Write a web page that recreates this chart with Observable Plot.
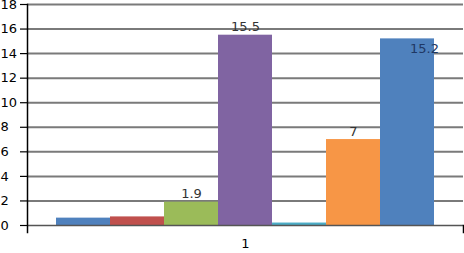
<!DOCTYPE html>
<html>
<head>
<meta charset="utf-8">
<script src="https://cdn.jsdelivr.net/npm/d3@7"></script>
<script src="https://cdn.jsdelivr.net/npm/@observablehq/plot@0.6"></script>
<style>
  html, body { margin: 0; padding: 0; background: #fff; }
  #chart svg { display: block; }
</style>
</head>
<body>
<div id="chart"></div>
<script>
const categories = ["1"];
const series = ["S1", "S2", "S3", "S4", "S5", "S6", "S7"];
const values = [0.6, 0.7, 1.9, 15.5, 0.2, 7, 15.2];
const labels = [null, null, "1.9", "15.5", null, "7", "15.2"];
const colors = ["#4F81BD", "#C0504D", "#9BBB59", "#8064A2", "#4BACC6", "#F79646", "#4F81BD"];
const yTicks = [0, 2, 4, 6, 8, 10, 12, 14, 16, 18];

const data = series.map((s, i) => ({cat: categories[0], series: s, value: values[i], label: labels[i], idx: i}));
const aboveLabels = data.filter(d => d.label && d.idx !== 6);
const insideLabels = data.filter(d => d.label && d.idx === 6);

const W = 464, ML = 27, MR = 1;
const frameW = W - ML - MR;

const chart = Plot.plot({
  width: W,
  height: 253,
  marginLeft: ML,
  marginRight: MR,
  marginTop: 4,
  marginBottom: 28,
  style: {fontFamily: "DejaVu Sans", fontSize: "13px", color: "#000", background: "#fff"},
  fx: {domain: categories, padding: 0, label: null, axis: null},
  x: {domain: series, paddingInner: 0, paddingOuter: 0.5, axis: null},
  y: {domain: [0, 18], axis: null},
  color: {domain: series, range: colors},
  marks: [
    Plot.ruleY(yTicks.filter(d => d > 0), {y: d => d, stroke: "#7a7a7a", strokeWidth: 2}),
    Plot.barY(data, {fx: "cat", x: "series", y: "value", fill: "series"}),
    Plot.ruleY([0], {stroke: "#555", strokeWidth: 1.5}),
    Plot.ruleY(yTicks, {y: d => d, stroke: "#000", strokeWidth: 1.2, insetLeft: -7, insetRight: frameW}),
    Plot.frame({anchor: "left", stroke: "#000", strokeWidth: 1.5, insetBottom: -7}),
    Plot.frame({anchor: "right", stroke: "#000", strokeWidth: 1.5, insetTop: 221, insetBottom: -7}),
    Plot.text(yTicks, {y: d => d, text: d => String(d), frameAnchor: "left", textAnchor: "start", dx: -27, fill: "#000"}),
    Plot.text(categories, {fx: d => d, text: d => d, frameAnchor: "bottom", dy: 22, fill: "#000"}),
    Plot.text(aboveLabels, {fx: "cat", x: "series", y: "value", text: "label", dy: -8, fill: "#333"}),
    Plot.text(insideLabels, {fx: "cat", x: "series", y: "value", text: "label", dx: 17, dy: 10, fill: "#1F3864"})
  ]
});
document.getElementById("chart").appendChild(chart);
</script>
</body>
</html>
